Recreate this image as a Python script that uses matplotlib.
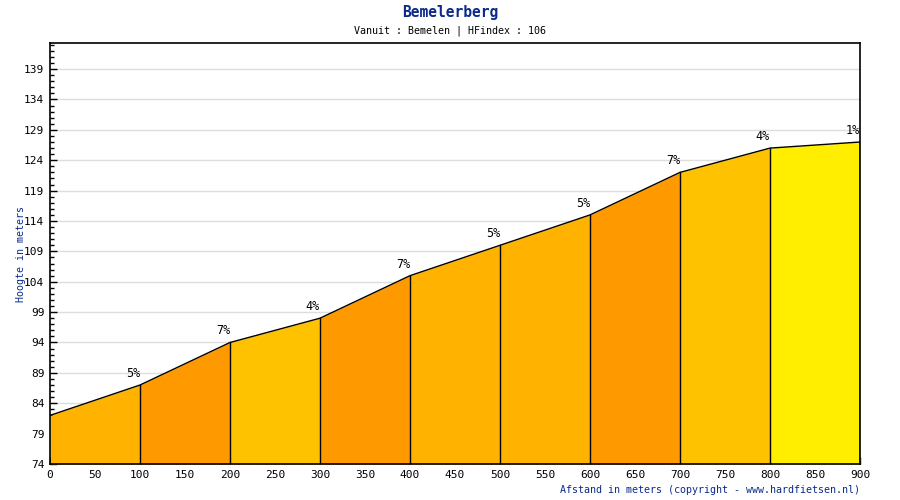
import numpy as np
import matplotlib
matplotlib.use("Agg")
import matplotlib.pyplot as plt
from matplotlib.ticker import MultipleLocator

# ============================
# Data
# ============================
afstand = [0, 100, 200, 300, 400, 500, 600, 700, 800, 900]
hoogte = [82, 87, 94, 98, 105, 110, 115, 122, 126, 127]
percentages = [5, 7, 4, 7, 5, 5, 7, 4, 1]

# colour per gradient class
kleuren = {1: "#FFEE00", 4: "#FFC200", 5: "#FFB300", 7: "#FF9900"}

font = "DejaVu Sans Mono"
blauw = "#0B2A8C"

fig = plt.figure(figsize=(9, 5), dpi=100)
ax = fig.add_axes([50 / 900, 36 / 500, 810 / 900, 421 / 500])

# ============================
# Segments
# ============================
for i, pct in enumerate(percentages):
    x = [afstand[i], afstand[i + 1]]
    y = [hoogte[i], hoogte[i + 1]]
    ax.fill_between(x, 74, y, color=kleuren[pct], linewidth=0, zorder=2)
    ax.plot([afstand[i + 1]] * 2, [74, hoogte[i + 1]], color="black", linewidth=1, zorder=3)
    ax.annotate(f"{pct}%", (afstand[i + 1], hoogte[i + 1]), xytext=(-7, 5),
                textcoords="offset pixels", ha="center", va="bottom",
                fontsize=8.5, family=font, zorder=4)

ax.plot(afstand, hoogte, color="black", linewidth=1, zorder=3)

# ============================
# Axes styling
# ============================
ax.set_xlim(0, 900)
ax.set_ylim(74, 143.3)
ax.set_xticks(np.arange(0, 901, 50))
ax.set_yticks(np.arange(74, 140, 5))
ax.xaxis.set_minor_locator(MultipleLocator(10))
ax.yaxis.set_minor_locator(MultipleLocator(1))
ax.tick_params(which="major", direction="in", length=5, width=1, labelsize=8, pad=4)
ax.tick_params(which="minor", direction="in", length=3, width=1)
for lab in ax.get_xticklabels() + ax.get_yticklabels():
    lab.set_family(font)
ax.grid(True, axis="y", color="#DDDDDD", linewidth=1, zorder=1)
ax.set_axisbelow(True)
for s in ax.spines.values():
    s.set_linewidth(1.2)

ax.set_ylabel("Hoogte in meters", fontsize=7.2, family=font, color=blauw, labelpad=-1)

fig.text(860 / 900, 5 / 500, "Afstand in meters (copyright - www.hardfietsen.nl)",
         ha="right", va="bottom", fontsize=7.2, family=font, color=blauw)
fig.text(0.5, 1 - 13 / 500, "Bemelerberg", ha="center", va="center",
         fontsize=10.5, fontweight="bold", family=font, color=blauw)
fig.text(0.5, 1 - 31 / 500, "Vanuit : Bemelen | HFindex : 106", ha="center",
         va="center", fontsize=7.2, family=font)

fig.savefig("out.png", dpi=100)
